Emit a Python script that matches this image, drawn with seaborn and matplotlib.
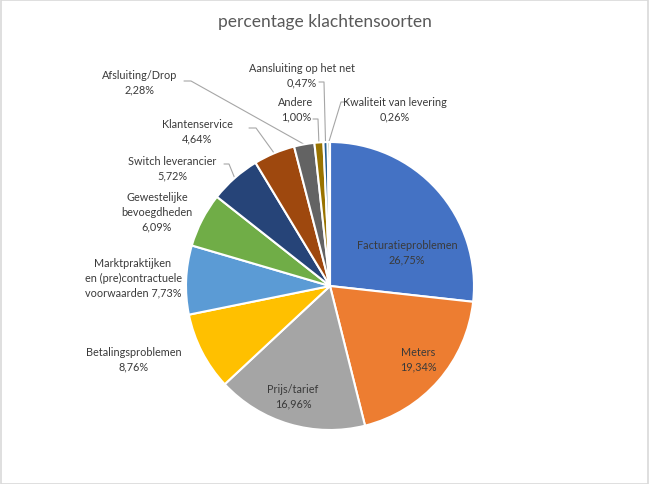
import matplotlib
matplotlib.use("Agg")
import matplotlib.pyplot as plt
import seaborn as sns
import numpy as np

# ---- data ----
categories = ["Facturatieproblemen", "Meters", "Prijs/tarief", "Betalingsproblemen",
              "Marktpraktijken\nen (pre)contractuele\nvoorwaarden", "Gewestelijke\nbevoegdheden",
              "Switch leverancier", "Klantenservice", "Afsluiting/Drop", "Andere",
              "Aansluiting op het net", "Kwaliteit van levering"]
values = [26.75, 19.34, 16.96, 8.76, 7.73, 6.09, 5.72, 4.64, 2.28, 1.00, 0.47, 0.26]
value_labels = ["26,75%", "19,34%", "16,96%", "8,76%", "7,73%", "6,09%", "5,72%",
                "4,64%", "2,28%", "1,00%", "0,47%", "0,26%"]
colors = ["#4472C4", "#ED7D31", "#A5A5A5", "#FFC000", "#5B9BD5", "#70AD47",
          "#264478", "#9E480E", "#636363", "#997300", "#255E91", "#43682B"]

sns.set_theme(style="white")
plt.rcParams['font.family'] = ['Lato', 'DejaVu Sans']

W, H = 649, 485
fig = plt.figure(figsize=(W / 100, H / 100), dpi=100)
ax = fig.add_axes([0, 0, 1, 1])
ax.axis('off')


def fy(y):
    """convert a top-down pixel row to data y (bottom-up)"""
    return H - y


cx, cy, R = 330, 287, 144
pal = sns.color_palette(colors)
wedges, _ = ax.pie(values, colors=pal, startangle=90, counterclock=False,
                   center=(cx, fy(cy)), radius=R,
                   wedgeprops=dict(edgecolor='white', linewidth=1.5))
ax.set_xlim(0, W)
ax.set_ylim(0, H)
ax.set_aspect('equal')

txt = "#3A3A3A"
fs = 7.8
# label text positions (pixel coordinates from top-left, centre of the text block)
label_pos = [(407, 253), (418, 360), (293, 397), (134, 360), (133, 278), (157, 212),
             (172, 169), (197, 132), (140, 83), (296, 110), (302, 76), (395, 110)]
for i, (name, vl) in enumerate(zip(categories, value_labels)):
    if i == 4:
        s = name + " " + vl
    else:
        s = name + "\n" + vl
    x, y = label_pos[i]
    ax.text(x, fy(y), s, ha='center', va='center', multialignment='center',
            fontsize=fs, color=txt, linespacing=1.4)

# leader lines: start & elbow near label, end at wedge mid-angle edge
leaders = {6: [(224, 165), (229, 165)], 7: [(249, 129), (256, 129)],
           8: [(184, 82), (191, 82)], 9: [(313, 120), (318, 120)],
           10: [(319, 83), (324, 83)], 11: [(348, 103), (341, 103)]}
for i, pts in leaders.items():
    w = wedges[i]
    th = np.deg2rad((w.theta1 + w.theta2) / 2)
    ex, ey = cx + R * np.cos(th), fy(cy) + R * np.sin(th)
    xs = [p[0] for p in pts] + [ex]
    ys = [fy(p[1]) for p in pts] + [ey]
    ax.plot(xs, ys, color="#A6A6A6", linewidth=0.8, zorder=0.5)

ax.text(W / 2, fy(22), "percentage klachtensoorten", ha='center', va='center',
        fontsize=12.5, color="#595959")

# chart border
fig.patches.append(plt.Rectangle((0.001, 0.001), 0.997, 0.997, transform=fig.transFigure,
                                 fill=False, edgecolor="#D9D9D9", linewidth=1.2))

fig.savefig("out.png", dpi=100)
